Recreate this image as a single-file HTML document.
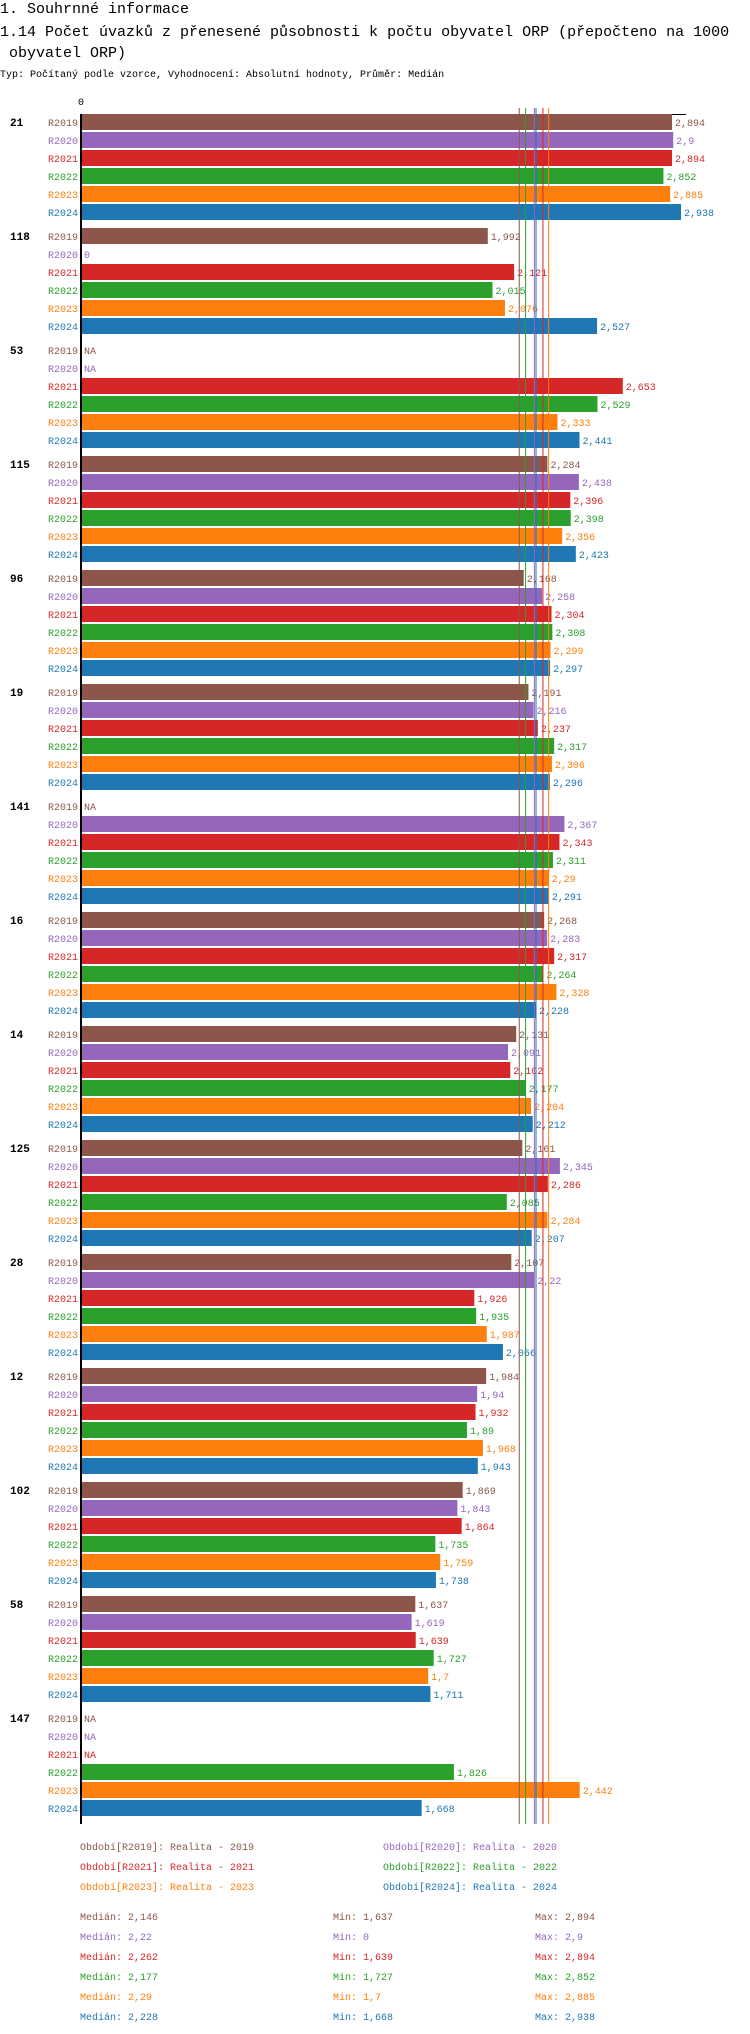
<!DOCTYPE html>
<html><head><meta charset="utf-8"><style>
html,body{margin:0;padding:0;background:#fff;}
svg{display:block;font-family:"Liberation Mono",monospace;}
</style></head><body>
<svg id="chart" width="750" height="2034" xmlns="http://www.w3.org/2000/svg">
<text x="0" y="13" font-size="15" fill="#000">1. Souhrnné informace</text>
<text x="0" y="36" font-size="15" fill="#000">1.14 Počet úvazků z přenesené působnosti k počtu obyvatel ORP (přepočteno na 1000</text>
<text x="0" y="57" font-size="15" fill="#000" xml:space="preserve"> obyvatel ORP)</text>
<text x="0" y="77" font-size="10" fill="#000">Typ: Počítaný podle vzorce, Vyhodnocení: Absolutní hodnoty, Průměr: Medián</text>
<g id="plot"></g>
</svg>
<script>
const groups = ["21","118","53","115","96","19","141","16","14","125","28","12","102","58","147"];
const series = ["R2019","R2020","R2021","R2022","R2023","R2024"];
const colors = ["#8c564b","#9467bd","#d62728","#2ca02c","#ff7f0e","#1f77b4"];
const vR2019 = [2.894,1.992,null,2.284,2.168,2.191,null,2.268,2.131,2.161,2.107,1.984,1.869,1.637,null];
const vR2020 = [2.9,0,null,2.438,2.258,2.216,2.367,2.283,2.091,2.345,2.22,1.94,1.843,1.619,null];
const vR2021 = [2.894,2.121,2.653,2.396,2.304,2.237,2.343,2.317,2.102,2.286,1.926,1.932,1.864,1.639,null];
const vR2022 = [2.852,2.015,2.529,2.398,2.308,2.317,2.311,2.264,2.177,2.085,1.935,1.89,1.735,1.727,1.826];
const vR2023 = [2.885,2.076,2.333,2.356,2.299,2.306,2.29,2.328,2.204,2.284,1.987,1.968,1.759,1.7,2.442];
const vR2024 = [2.938,2.527,2.441,2.423,2.297,2.296,2.291,2.228,2.212,2.207,2.066,1.943,1.738,1.711,1.668];
const medians = [2.146,2.22,2.262,2.177,2.29,2.228];
const mins = [1.637,0,1.639,1.727,1.7,1.668];
const maxs = [2.894,2.9,2.894,2.852,2.885,2.938];
const legendLabels = ["Období[R2019]: Realita - 2019","Období[R2020]: Realita - 2020","Období[R2021]: Realita - 2021","Období[R2022]: Realita - 2022","Období[R2023]: Realita - 2023","Období[R2024]: Realita - 2024"];
const values = [vR2019,vR2020,vR2021,vR2022,vR2023,vR2024];

const NS="http://www.w3.org/2000/svg";
const plot=document.getElementById('plot');
const X0=81, XMAX=2.938, XW=600;
function x(v){return X0+v/XMAX*XW;}
function rowY(g,i){return 122+114*g+18*i;}
function fmt(v){let s=String(+v.toFixed(3));return s.replace('.',',');}
function mk(tag,attrs,txt){const e=document.createElementNS(NS,tag);for(const k in attrs)e.setAttribute(k,attrs[k]);if(txt!==undefined)e.textContent=txt;plot.appendChild(e);return e;}

const yEnd=rowY(groups.length-1,5)+16;
let e;
e=mk('text',{x:X0,y:105,'font-size':10,'text-anchor':'middle',fill:'#000'},'0');


e=mk('line',{x1:X0,x2:686,y1:114.5,y2:114.5,stroke:'#000','stroke-width':1});



groups.forEach((g,gi)=>{
  e=mk('text',{x:10,y:rowY(gi,0)+4,'font-size':11,'font-weight':'bold',fill:'#000'},g);
  
  
  series.forEach((s,si)=>{
    const cy=rowY(gi,si), v=values[si][gi];
    e=mk('text',{x:78,y:cy+4,'font-size':10,'text-anchor':'end',fill:colors[si]},s);
    
    
    if(v===null){
      e=mk('text',{x:84,y:cy+4,'font-size':10,fill:colors[si]},'NA');
      
      
      return;
    }
    if(v>0){
      e=mk('rect',{x:X0,y:cy-8,width:x(v)-X0,height:16,fill:colors[si]});
      
      
    }
    e=mk('text',{x:x(v)+3,y:cy+4,'font-size':10,fill:colors[si]},fmt(v));
    
    
  });
});

medians.forEach((m,i)=>{
  e=mk('line',{x1:x(m),x2:x(m),y1:108,y2:yEnd,stroke:colors[i],'stroke-width':1});
  
  
});
e=mk('line',{x1:X0,x2:X0,y1:114,y2:yEnd,stroke:'#000','stroke-width':2});



legendLabels.forEach((l,i)=>{
  e=mk('text',{x:(i%2===0?80:383),y:1850+20*Math.floor(i/2),'font-size':10,fill:colors[i]},l);
  
  
});
series.forEach((s,i)=>{
  const y=1920+20*i;
  e=mk('text',{x:80,y:y,'font-size':10,fill:colors[i]},'Medián: '+fmt(medians[i]));
  
  
  e=mk('text',{x:333,y:y,'font-size':10,fill:colors[i]},'Min: '+fmt(mins[i]));
  
  
  e=mk('text',{x:535,y:y,'font-size':10,fill:colors[i]},'Max: '+fmt(maxs[i]));
  
  
});
</script>
</body></html>
